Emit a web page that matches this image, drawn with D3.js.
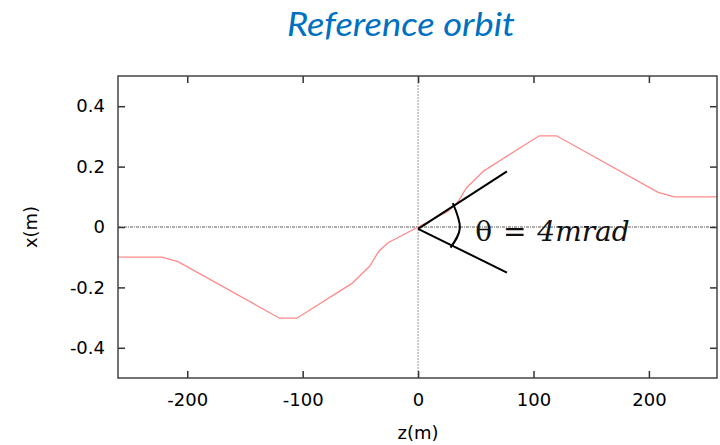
<!DOCTYPE html>
<html>
<head>
<meta charset="utf-8">
<script src="https://cdn.jsdelivr.net/npm/d3@7"></script>
<style>
	body { margin: 0; background: #fff; }
	svg { display: block; }
</style>
</head>
<body>
<div id="chart"></div>
<script>
// orbit: z (m) and transverse offset x (m)
const zValues = [-260, -222, -208, -120, -105, -57, -42, -34, -26, 0, 26, 34, 42, 57, 105, 120, 208, 222, 259];
const xValues = [-0.1, -0.1, -0.115, -0.302, -0.302, -0.186, -0.13, -0.08, -0.052, 0, 0.052, 0.08, 0.13, 0.186, 0.302, 0.302, 0.115, 0.1, 0.1];

const zTicks = [-200, -100, 0, 100, 200];
const xTicks = [-0.4, -0.2, 0, 0.2, 0.4];

// the hand drawn angle on top of the plot, in data units
const angleVertex = [0, -0.006];
const angleEnds = [[77, 0.184], [77, -0.151]];
const angleArc = [[30.1, 0.079], [36.2, -0.003], [28.1, -0.068]];
const angleLabel = [49.5, -0.047];

const width = 720, height = 445;
const plot = { left: 118, right: 717, top: 76, bottom: 378 };

const svg = d3.select("#chart").append("svg")
	.attr("width", width)
	.attr("height", height);

const x = d3.scaleLinear().domain([-260, 259]).range([plot.left, plot.right]);
const y = d3.scaleLinear().domain([-0.5, 0.5]).range([plot.bottom, plot.top]);

// title
svg.append("text")
	.attr("x", 401)
	.attr("y", 36)
	.attr("text-anchor", "middle")
	.attr("font-family", "Lato, 'Noto Sans', sans-serif")
	.attr("font-style", "italic")
	.attr("font-size", 32)
	.attr("fill", "#0070c0")
	.attr("textLength", 228)
	.attr("lengthAdjust", "spacingAndGlyphs")
	.text("Reference orbit");

// zero lines
svg.append("line")
	.attr("x1", x.range()[0]).attr("x2", x.range()[1])
	.attr("y1", y(0)).attr("y2", y(0))
	.attr("stroke", "#333")
	.attr("stroke-width", 0.8)
	.attr("stroke-dasharray", "3,1,1,1");

svg.append("line")
	.attr("x1", x(0)).attr("x2", x(0))
	.attr("y1", y.range()[0]).attr("y2", y.range()[1])
	.attr("stroke", "#999")
	.attr("stroke-width", 1)
	.attr("stroke-dasharray", "2,1");

// orbit
const orbit = zValues.map((z, i) => [z, xValues[i]]);
svg.append("path")
	.datum(orbit)
	.attr("fill", "none")
	.attr("stroke", "#ff8a8a")
	.attr("stroke-width", 1.3)
	.attr("d", d3.line().x(d => x(d[0])).y(d => y(d[1])));

// axes, ticks pointing inwards on all four sides
const tickFont = "'DejaVu Sans', Verdana, sans-serif";
const fmt = d => String(d);

function styleAxis(g) {
	g.select(".domain").remove();
	g.selectAll(".tick line").attr("stroke", "#333").attr("stroke-width", 1.5);
	g.selectAll("text")
		.attr("font-family", tickFont)
		.attr("font-size", 18)
		.attr("fill", "#000");
}

svg.append("g")
	.attr("transform", `translate(0,${plot.bottom})`)
	.call(d3.axisBottom(x).tickValues(zTicks).tickSizeInner(-7).tickSizeOuter(0).tickPadding(15).tickFormat(fmt))
	.call(styleAxis);

svg.append("g")
	.attr("transform", `translate(0,${plot.top})`)
	.call(d3.axisTop(x).tickValues(zTicks).tickSizeInner(-7).tickSizeOuter(0).tickFormat(""))
	.call(styleAxis);

svg.append("g")
	.attr("transform", `translate(${plot.left},0)`)
	.call(d3.axisLeft(y).tickValues(xTicks).tickSizeInner(-7).tickSizeOuter(0).tickPadding(13).tickFormat(fmt))
	.call(styleAxis);

svg.append("g")
	.attr("transform", `translate(${plot.right},0)`)
	.call(d3.axisRight(y).tickValues(xTicks).tickSizeInner(-7).tickSizeOuter(0).tickFormat(""))
	.call(styleAxis);

// frame
svg.append("rect")
	.attr("x", plot.left)
	.attr("y", plot.top)
	.attr("width", plot.right - plot.left)
	.attr("height", plot.bottom - plot.top)
	.attr("fill", "none")
	.attr("stroke", "#444")
	.attr("stroke-width", 1.5);

// axis titles
svg.append("text")
	.attr("x", x(0))
	.attr("y", 439)
	.attr("text-anchor", "middle")
	.attr("font-family", tickFont)
	.attr("font-size", 18)
	.attr("fill", "#000")
	.text("z(m)");

svg.append("text")
	.attr("transform", `translate(37,${y(0)}) rotate(-90)`)
	.attr("text-anchor", "middle")
	.attr("font-family", tickFont)
	.attr("font-size", 18)
	.attr("fill", "#000")
	.text("x(m)");

// angle annotation
const ann = svg.append("g")
	.attr("fill", "none")
	.attr("stroke", "#000")
	.attr("stroke-width", 2);

angleEnds.forEach(e => {
	ann.append("line")
		.attr("x1", x(angleVertex[0])).attr("y1", y(angleVertex[1]))
		.attr("x2", x(e[0])).attr("y2", y(e[1]));
});

ann.append("path")
	.datum(angleArc)
	.attr("d", d3.line().x(d => x(d[0])).y(d => y(d[1])).curve(d3.curveNatural));

const label = svg.append("text")
	.attr("x", x(angleLabel[0]))
	.attr("y", y(angleLabel[1]))
	.attr("font-family", "'DejaVu Serif', 'Liberation Serif', serif")
	.attr("font-size", 28)
	.attr("fill", "#111");
label.append("tspan").text("θ ");
label.append("tspan").attr("dx", 2).text("= ");
label.append("tspan").attr("dx", 2).attr("font-style", "italic").text("4mrad");
</script>
</body>
</html>
